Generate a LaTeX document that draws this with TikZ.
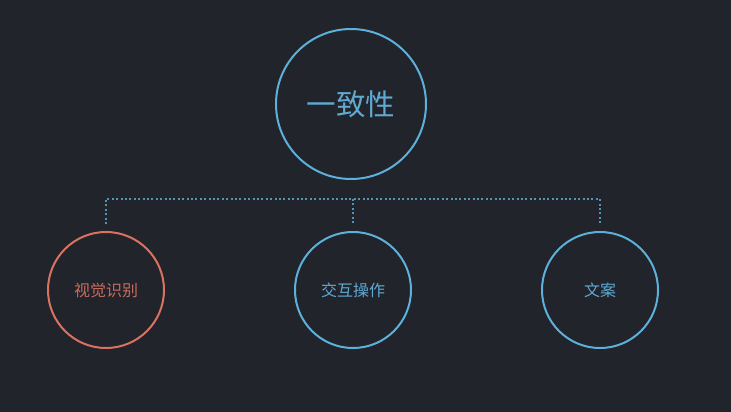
\documentclass[tikz,border=0pt]{standalone}
\usepackage{fontspec}
\newfontfamily\cjk{Noto Sans CJK SC}
\definecolor{bg}{HTML}{21242B}
\definecolor{cblue}{HTML}{5DB0D9}
\definecolor{csalmon}{HTML}{DA7262}
\definecolor{tsalmon}{HTML}{C86B5D}
\definecolor{tblue}{HTML}{5FA9D2}
\begin{document}
\begin{tikzpicture}[x=1pt,y=-1pt,
  bigcircle/.style={circle,draw=cblue,line width=2pt,minimum size=150pt,inner sep=0pt,text=tblue,font=\cjk\fontsize{29.5}{32}\selectfont},
  smallcircle/.style={circle,draw=cblue,line width=2pt,minimum size=116pt,inner sep=0pt,text=tblue,font=\cjk\fontsize{16}{18}\selectfont},
  redcircle/.style={smallcircle,draw=csalmon,text=tsalmon},
  dotline/.style={draw=cblue!80!bg,line width=2pt,dash pattern=on 2pt off 2.4pt}]
\fill[bg] (0,0) rectangle (731,412);
\useasboundingbox (0,0) rectangle (731,412);
\node[bigcircle] (top) at (351,104) {一致性};
\node[redcircle] (a) at (106,290) {视觉识别};
\node[smallcircle] (b) at (353,290) {交互操作};
\node[smallcircle] (c) at (600,290) {文案};
\coordinate (ja) at (106,199);
\coordinate (jb) at (353,199);
\coordinate (jc) at (600,199);
\coordinate (ea) at (106,224);
\coordinate (eb) at (353,224);
\coordinate (ec) at (600,224);
\draw[dotline] (ea) -- (ja) -- (jc) -- (ec);
\draw[dotline] (jb) -- (eb);
\end{tikzpicture}
\end{document}
